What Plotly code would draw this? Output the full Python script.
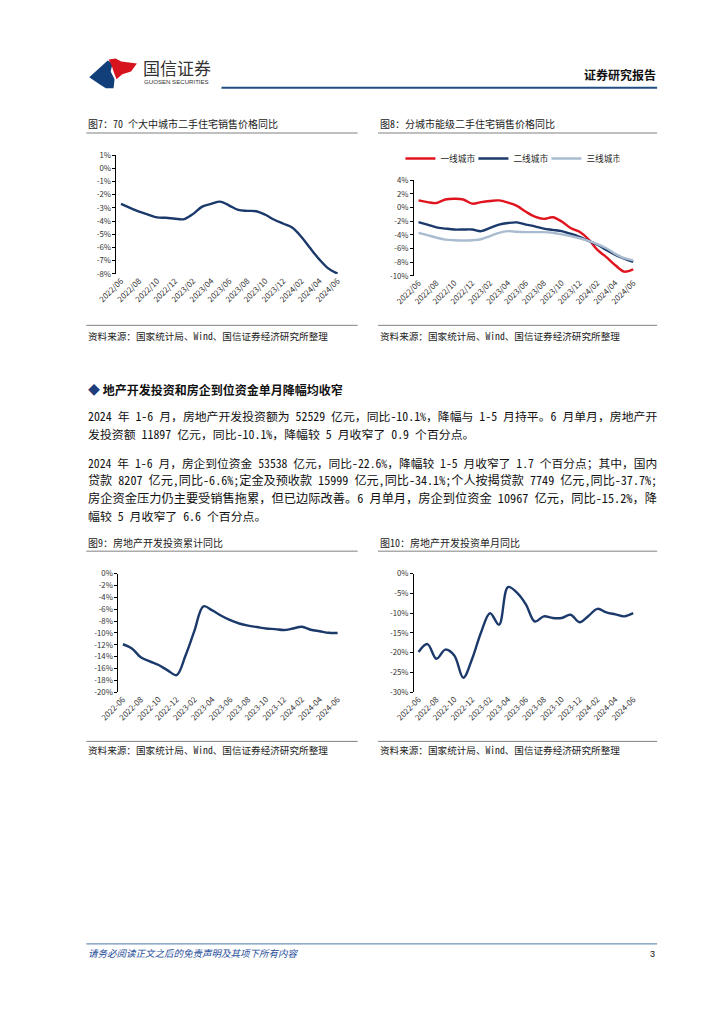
import unicodedata
import plotly.graph_objects as go

W, H = 724, 1024
OFF = 8  # page body margin in the viewer
def px(x): return (x - OFF) / W
def py(y): return 1 - (y - OFF) / H

# ---------------- data ----------------
months = ["2022/06","2022/07","2022/08","2022/09","2022/10","2022/11","2022/12",
          "2023/01","2023/02","2023/03","2023/04","2023/05","2023/06","2023/07",
          "2023/08","2023/09","2023/10","2023/11","2023/12","2024/01","2024/02",
          "2024/03","2024/04","2024/05","2024/06"]
months_dash = [m.replace("/", "-") for m in months]

price70 = [-2.70,-3.00,-3.28,-3.50,-3.72,-3.75,-3.82,-3.85,-3.45,-2.90,-2.70,-2.52,
           -2.82,-3.15,-3.22,-3.25,-3.52,-3.90,-4.20,-4.50,-5.20,-6.08,-6.92,-7.60,-7.98]

tier1 = [1.04,0.80,0.66,1.18,1.28,1.18,0.57,0.80,0.95,1.04,0.71,0.24,-0.62,-1.33,
         -1.66,-1.42,-2.04,-2.99,-3.55,-4.64,-6.20,-7.25,-8.44,-9.38,-9.05]
tier2 = [-2.13,-2.50,-2.90,-3.08,-3.22,-3.22,-3.22,-3.46,-2.99,-2.50,-2.27,-2.18,-2.50,
         -2.75,-3.08,-3.27,-3.46,-3.84,-4.31,-4.88,-5.45,-6.20,-6.92,-7.49,-7.96]
tier3 = [-3.70,-4.03,-4.40,-4.70,-4.79,-4.83,-4.79,-4.64,-4.17,-3.70,-3.46,-3.55,-3.60,
         -3.60,-3.60,-3.70,-3.93,-4.17,-4.50,-4.88,-5.36,-5.97,-6.78,-7.40,-7.73]
tier_names = ["一线城市", "二线城市", "三线城市"]

inv_cum = [-11.9,-12.6,-14.1,-14.8,-15.4,-16.3,-17.1,-13.8,-9.6,-5.5,-6.2,-7.1,-7.85,
           -8.4,-8.75,-9.0,-9.25,-9.35,-9.5,-9.25,-8.95,-9.45,-9.7,-9.97,-10.0]
inv_month = [-19.8,-17.8,-21.5,-19.2,-20.7,-26.3,-21.5,-14.8,-10.0,-12.9,-3.4,-4.8,-7.75,
             -12.1,-10.8,-11.2,-11.2,-10.4,-12.3,-10.7,-8.9,-9.8,-10.3,-10.8,-10.0]

yt7 = [1, 0, -1, -2, -3, -4, -5, -6, -7, -8]
yt8 = [4, 2, 0, -2, -4, -6, -8, -10]
yt9 = [0, -2, -4, -6, -8, -10, -12, -14, -16, -18, -20]
yt10 = [0, -5, -10, -15, -20, -25, -30]

NAVY = "#1b3a6b"
RED = "#e0141e"
GRAY = "#a9bccf"
CJK = "Noto Sans CJK SC"
MONO = "Noto Sans Mono CJK SC, Noto Sans CJK SC"

xs = list(range(len(months)))
xr = [-0.5, len(months) - 0.5]
label_idx = xs[::2]
mark_idx = [i + 1.5 for i in xs[:-1:2]]

fig = go.Figure()

def line(x, y, color, xa, ya, name=None, legend=False):
    fig.add_trace(go.Scatter(x=x, y=y, mode="lines", name=name, showlegend=legend,
                             line=dict(color=color, width=2.4, shape="spline", smoothing=1.0),
                             xaxis=xa, yaxis=ya, hoverinfo="skip"))

line(xs, price70, NAVY, "x", "y")
line(xs, tier1, RED, "x2", "y2", tier_names[0], True)
line(xs, tier2, NAVY, "x2", "y2", tier_names[1], True)
line(xs, tier3, GRAY, "x2", "y2", tier_names[2], True)
line(xs, inv_cum, NAVY, "x3", "y3")
line(xs, inv_month, NAVY, "x4", "y4")

ytickfont = dict(family=CJK, size=7.8, color="#333333")
xtickfont = dict(family=CJK, size=8, color="#333333")

def yaxis(top, bot, ticks_, anchor):
    return dict(domain=[py(bot), py(top)], range=[min(ticks_), max(ticks_)],
                tickvals=ticks_, ticktext=[f"{t}%" for t in ticks_],
                showline=True, linecolor="#000", linewidth=1, ticks="outside",
                ticklen=3, tickcolor="#000", showgrid=False, zeroline=False,
                tickfont=ytickfont, anchor=anchor, fixedrange=True)

def xlabels(x0, x1, anchor, labels):
    return dict(domain=[px(x0), px(x1)], range=xr, anchor=anchor,
                tickvals=label_idx, ticktext=[labels[i] for i in label_idx],
                tickangle=-45, showline=False, ticks="", showgrid=False,
                zeroline=False, tickfont=xtickfont, fixedrange=True)

def xline(x0, x1, over, **kw):
    d = dict(domain=[px(x0), px(x1)], range=xr, overlaying=over,
             tickvals=mark_idx, showticklabels=False, showline=True,
             linecolor="#000", linewidth=1, ticklen=3, tickcolor="#000",
             showgrid=False, zeroline=False, fixedrange=True)
    d.update(kw)
    return d

def zero_pos(top, bot, ticks_):
    lo, hi = min(ticks_), max(ticks_)
    frac = (0 - lo) / (hi - lo)
    return py(bot) + frac * (py(top) - py(bot))

# chart geometry (px)
c7 = dict(x0=99, x1=331, top=150.7, bot=270.7)
c8 = dict(x0=405, x1=635, top=176.0, bot=272.7)
c9 = dict(x0=101, x1=331, top=573.7, bot=693.7)
c10 = dict(x0=405, x1=635, top=573.7, bot=693.7)

fig.update_layout(
    xaxis=xlabels(c7["x0"], c7["x1"], "y", months),
    yaxis=yaxis(c7["top"], c7["bot"], yt7, "x"),
    xaxis2=xlabels(c8["x0"], c8["x1"], "y2", months),
    yaxis2=yaxis(c8["top"], c8["bot"], yt8, "x2"),
    xaxis3=xlabels(c9["x0"], c9["x1"], "y3", months_dash),
    yaxis3=yaxis(c9["top"], c9["bot"], yt9, "x3"),
    xaxis4=xlabels(c10["x0"], c10["x1"], "y4", months_dash),
    yaxis4=yaxis(c10["top"], c10["bot"], yt10, "x4"),
    xaxis5=xline(c7["x0"], c7["x1"], "x", anchor="free",
                 position=zero_pos(c7["top"], c7["bot"], yt7), ticks="inside"),
    xaxis6=xline(c8["x0"], c8["x1"], "x2", anchor="free",
                 position=zero_pos(c8["top"], c8["bot"], yt8), ticks="inside"),
    xaxis7=xline(c9["x0"], c9["x1"], "x3", anchor="y3", side="top", ticks="outside"),
    xaxis8=xline(c10["x0"], c10["x1"], "x4", anchor="y4", side="top", ticks="outside"),
)

# ---------------- page texts & rules ----------------
ann = []
shapes = []

def text(x, y, s, size, color="#222", bold=False, anchor="left", family=CJK):
    if bold:
        s = f"<b>{s}</b>"
    ann.append(dict(x=px(x), y=py(y), xref="paper", yref="paper", text=s,
                    showarrow=False, xanchor=anchor, yanchor="middle",
                    font=dict(family=family, size=size, color=color)))

def hline(x0, x1, y, color, width=1):
    shapes.append(dict(type="line", xref="paper", yref="paper", x0=px(x0), x1=px(x1),
                       y0=py(y), y1=py(y), line=dict(color=color, width=width)))

def poly(pts, color):
    path = "M " + " L ".join(f"{px(a):.5f},{py(b):.5f}" for a, b in pts) + " Z"
    shapes.append(dict(type="path", xref="paper", yref="paper", path=path,
                       fillcolor=color, line=dict(width=0)))

# header
poly([(71, 72), (90, 55), (95, 58), (93, 66), (97, 74), (96, 83), (88, 83), (80, 78)], "#123f79")
poly([(91, 54), (98, 53), (104, 56), (120, 58), (114, 66), (105, 69), (99, 74), (96, 66), (94, 60)], "#d7141e")
text(124, 62, "国信证券", 17, "#333333")
text(125, 76.5, "GUOSEN SECURITIES", 6.1, "#333333", family="Arial")
text(656, 69, "证券研究报告", 12, "#111111", bold=True, anchor="right")
hline(207, 655, 82.5, "#1f4e80", 2)

# chart titles / rules / sources
SRC = "资料来源：国家统计局、Wind、国信证券经济研究所整理"
def frame(x0, x1, title, ytitle, yrule, ysrcrule, ysrc):
    text(x0, ytitle, title, 10, "#222", family=MONO)
    hline(x0, x1, yrule, "#808080", 1)
    hline(x0, x1, ysrcrule, "#808080", 1)
    text(x0, ysrc, SRC, 9.6, "#222", family=MONO)

frame(68, 347, "图7：70 个大中城市二手住宅销售价格同比", 119, 128.3, 322.7, 334)
frame(368, 655, "图8：分城市能级二手住宅销售价格同比", 119, 128.3, 322.7, 334)
frame(68, 347, "图9：房地产开发投资累计同比", 542, 551, 743.3, 752)
frame(368, 655, "图10：房地产开发投资单月同比", 542, 551, 743.3, 752)

# section text
text(68, 388, "<span style='color:#1f3d7a'>◆</span> 地产开发投资和房企到位资金单月降幅均收窄", 12, "#111", bold=True)
body = [
    (414, "2024 年 1-6 月，房地产开发投资额为 52529 亿元，同比-10.1%，降幅与 1-5 月持平。6 月单月，房地产开", True),
    (432, "发投资额 11897 亿元，同比-10.1%，降幅较 5 月收窄了 0.9 个百分点。", False),
    (461, "2024 年 1-6 月，房企到位资金 53538 亿元，同比-22.6%，降幅较 1-5 月收窄了 1.7 个百分点；其中，国内", True),
    (479, "贷款 8207 亿元,同比-6.6%;定金及预收款 15999 亿元,同比-34.1%;个人按揭贷款 7749 亿元,同比-37.7%;", True),
    (497, "房企资金压力仍主要受销售拖累，但已边际改善。6 月单月，房企到位资金 10967 亿元，同比-15.2%，降", True),
    (515, "幅较 5 月收窄了 6.6 个百分点。", False),
]

def em_width(s):
    return sum(1.0 if unicodedata.east_asian_width(c) in "WF" else 0.5 for c in s)

TEXT_W = (655 - 68) * 0.97
for y, s, full in body:
    size = min(12.3, TEXT_W / em_width(s)) if full else 11.9
    text(68, y, s, round(size, 2), "#111", family=MONO)

# footer
hline(68, 655, 948, "#4a78a8", 1)
text(68, 957, "<i>请务必阅读正文之后的免责声明及其项下所有内容</i>", 9.5, "#1f4e9a")
text(655, 958, "3", 9, "#111", anchor="right", family="Arial")

fig.update_layout(
    width=W, height=H, margin=dict(l=0, r=0, t=0, b=0),
    paper_bgcolor="white", plot_bgcolor="white",
    annotations=ann, shapes=shapes,
    legend=dict(orientation="h", x=px(391), y=py(154), xanchor="left", yanchor="middle",
                font=dict(family=CJK, size=8.7, color="#222"), bgcolor="rgba(0,0,0,0)",
                itemwidth=30, entrywidth=28, entrywidthmode="pixels", tracegroupgap=0),
)

fig.write_html("out.html")
